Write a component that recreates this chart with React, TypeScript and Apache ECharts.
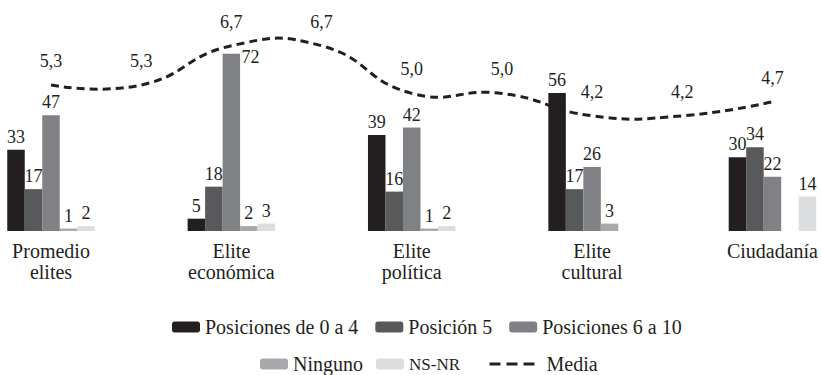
import React, { useEffect, useRef } from "react";
import * as echarts from "echarts";

const categories = ["Promedio\nelites", "Elite\neconómica", "Elite\npolítica", "Elite\ncultural", "Ciudadanía"];
const pos0a4 = [33, 5, 39, 56, 30];
const pos5 = [17, 18, 16, 17, 34];
const pos6a10 = [47, 72, 42, 26, 22];
const ninguno: (number | null)[] = [1, 2, 1, 3, null];
const nsnr: (number | null)[] = [2, 3, 2, null, 14];
const mediaSlots = ["a", "b", "c", "d", "e", "f", "g", "h", "i"];
const media = [5.3, 5.3, 6.7, 6.7, 5.0, 5.0, 4.2, 4.2, 4.7];

const FONT = "'Liberation Serif', 'Times New Roman', serif";
const INK = "#231f20";

export default function App() {
  const ref = useRef<HTMLDivElement>(null);
  useEffect(() => {
    if (!ref.current) return;
    const chart = echarts.init(ref.current, null, { renderer: "svg" });
    const labelStyle = {
      show: true,
      position: "top" as const,
      distance: 4,
      fontFamily: FONT,
      fontSize: 18,
      color: INK,
    };
    const barBase = (name: string, data: any[], color: string) => ({
      name,
      type: "bar",
      xAxisIndex: 0,
      yAxisIndex: 0,
      data,
      barWidth: 17.5,
      barGap: "0%",
      clip: false,
      itemStyle: { color },
      label: labelStyle,
    });
    const s6data = pos6a10.map((v, i) =>
      i === 1
        ? { value: v, label: { position: [19, -6], align: "left", verticalAlign: "top" } }
        : v
    );
    const legendText = { fontFamily: FONT, fontSize: 20, color: INK };
    chart.setOption({
      animation: false,
      textStyle: { fontFamily: FONT },
      grid: { left: 51, right: 44, top: 34, bottom: 144, containLabel: false },
      legend: [
        {
          data: ["Posiciones de 0 a 4", "Posición 5", "Posiciones 6 a 10"],
          left: 172,
          top: 317,
          padding: 0,
          itemWidth: 28,
          itemHeight: 11,
          itemGap: 17,
          selectedMode: false,
          textStyle: legendText,
        },
        {
          data: ["Ninguno", "NS-NR"],
          left: 260,
          top: 354,
          padding: 0,
          itemWidth: 28,
          itemHeight: 11,
          itemGap: 13,
          selectedMode: false,
          formatter: (n: string) => (n === "NS-NR" ? "{sc|NS-NR}" : n),
          textStyle: {
            ...legendText,
            rich: { sc: { fontFamily: FONT, fontSize: 17, color: INK } },
          },
        },
        {
          data: [
            {
              name: "Media",
              itemStyle: { opacity: 0 },
              lineStyle: { opacity: 1, color: INK, width: 3, type: [11, 6] },
            },
          ],
          left: 488,
          top: 354,
          padding: 0,
          itemWidth: 45,
          itemHeight: 11,
          selectedMode: false,
          textStyle: { ...legendText, padding: [0, 0, 0, 7] },
        },
      ],
      xAxis: [
        {
          type: "category",
          data: categories,
          boundaryGap: false,
          axisLine: { show: false },
          axisTick: { show: false },
          axisLabel: {
            interval: 0,
            margin: 9,
            fontFamily: FONT,
            fontSize: 20,
            lineHeight: 21,
            color: INK,
          },
        },
        {
          type: "category",
          data: mediaSlots,
          boundaryGap: false,
          show: false,
        },
      ],
      yAxis: [
        { type: "value", min: 0, max: 80, show: false },
        { type: "value", min: 0.086, max: 7.121, show: false },
      ],
      series: [
        barBase("Posiciones de 0 a 4", pos0a4, "#231f20"),
        barBase("Posición 5", pos5, "#58595b"),
        barBase("Posiciones 6 a 10", s6data, "#808184"),
        barBase("Ninguno", ninguno, "#a7a9ac"),
        barBase("NS-NR", nsnr, "#dcddde"),
        {
          name: "MediaCurve",
          type: "custom",
          xAxisIndex: 1,
          yAxisIndex: 1,
          silent: true,
          clip: false,
          data: media.map((v, i) => [i, v]),
          renderItem: (params: any, api: any) => {
            if (params.dataIndex !== 0) return null;
            const pts = media.map((v, i) => api.coord([i, v]));
            return {
              type: "polyline",
              shape: { points: pts, smooth: 0.5 },
              style: { fill: "none", stroke: INK, lineWidth: 3, lineDash: [8, 5] },
            };
          },
        },
        {
          name: "Media",
          type: "line",
          xAxisIndex: 1,
          yAxisIndex: 1,
          data: media,
          symbol: "circle",
          symbolSize: 0,
          showSymbol: true,
          itemStyle: { color: INK },
          lineStyle: { color: INK, width: 3, type: [11, 6], opacity: 0 },
          label: {
            show: true,
            position: "top",
            distance: 15,
            fontFamily: FONT,
            fontSize: 18,
            color: INK,
            formatter: (p: any) => Number(p.value).toFixed(1).replace(".", ","),
          },
        },
      ],
    });
    return () => chart.dispose();
  }, []);
  return <div ref={ref} style={{ width: 821, height: 375, position: "absolute", left: 0, top: 0 }} />;
}
